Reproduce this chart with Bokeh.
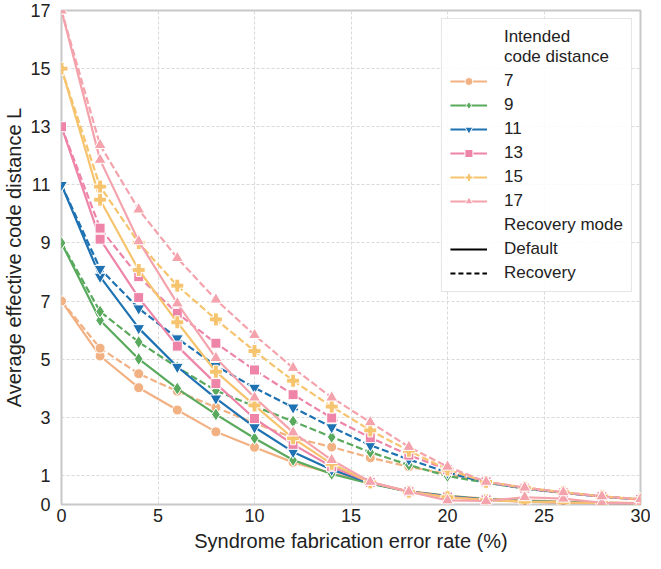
from bokeh.plotting import figure
from bokeh.models import Legend, LegendItem, FixedTicker, ColumnDataSource
from bokeh.embed import file_html
from bokeh.resources import INLINE

error_rate = [0, 2, 4, 6, 8, 10, 12, 14, 16, 18, 20, 22, 24, 26, 28, 30]
distances = ["7", "9", "11", "13", "15", "17"]

d7_default = [7, 5.11, 4.02, 3.25, 2.5, 1.97, 1.45, 1.08, 0.75, 0.46, 0.3, 0.2, 0.14, 0.1, 0.07, 0.05]
d7_recovery = [7, 5.38, 4.5, 3.9, 3.34, 2.8, 2.3, 1.98, 1.61, 1.3, 1.05, 0.78, 0.58, 0.42, 0.28, 0.18]
d9_default = [9, 6.34, 5.01, 3.99, 3.1, 2.28, 1.53, 1.05, 0.72, 0.44, 0.3, 0.18, 0.12, 0.08, 0.06, 0.04]
d9_recovery = [9, 6.64, 5.59, 4.72, 3.92, 3.38, 2.86, 2.32, 1.8, 1.36, 0.98, 0.75, 0.55, 0.4, 0.27, 0.17]
d11_default = [11, 7.84, 6.07, 4.74, 3.65, 2.66, 1.81, 1.2, 0.74, 0.44, 0.28, 0.17, 0.11, 0.07, 0.05, 0.03]
d11_recovery = [11, 8.11, 6.75, 5.72, 4.77, 4.02, 3.34, 2.66, 2.04, 1.55, 1.1, 0.76, 0.55, 0.4, 0.27, 0.17]
d13_default = [13, 9.13, 7.12, 5.45, 4.16, 2.96, 2.07, 1.3, 0.76, 0.44, 0.26, 0.16, 0.1, 0.06, 0.04, 0.03]
d13_recovery = [13, 9.51, 7.84, 6.58, 5.55, 4.63, 3.78, 2.98, 2.3, 1.7, 1.2, 0.78, 0.56, 0.4, 0.27, 0.17]
d15_default = [15, 10.49, 8.07, 6.27, 4.57, 3.41, 2.28, 1.4, 0.76, 0.44, 0.25, 0.15, 0.1, 0.07, 0.05, 0.03]
d15_recovery = [15, 10.94, 9.0, 7.53, 6.37, 5.28, 4.26, 3.37, 2.55, 1.85, 1.2, 0.78, 0.58, 0.42, 0.28, 0.18]
d17_default = [17, 11.86, 9.06, 6.92, 5.04, 3.68, 2.48, 1.53, 0.78, 0.44, 0.14, 0.12, 0.25, 0.2, 0.06, 0.04]
d17_recovery = [17, 12.37, 10.15, 8.48, 7.05, 5.83, 4.7, 3.68, 2.83, 1.98, 1.3, 0.78, 0.58, 0.42, 0.28, 0.18]

y_ticks = [0, 1, 3, 5, 7, 9, 11, 13, 15, 17]
x_ticks = [0, 5, 10, 15, 20, 25, 30]

defaults = [d7_default, d9_default, d11_default, d13_default, d15_default, d17_default]
recoveries = [d7_recovery, d9_recovery, d11_recovery, d13_recovery, d15_recovery, d17_recovery]
colors = ["#F1B183", "#5AAA5E", "#1F72B2", "#EE85A8", "#F6C46E", "#F4A3AC"]
markers = ["circle", "diamond", "inverted_triangle", "square", "plus", "triangle"]
msizes = [10, 13, 12, 10, 13, 12]

FONT = "Liberation Sans"

p = figure(frame_width=579, frame_height=494, output_backend="svg", toolbar_location=None,
           x_range=(0, 30), y_range=(0, 17),
           min_border_left=55, min_border_right=10, min_border_top=10, min_border_bottom=40)

p.outline_line_color = "#c8c8c8"
p.outline_line_width = 2
p.background_fill_color = "white"

for ax in (p.xaxis, p.yaxis):
    ax.axis_line_color = None
    ax.major_tick_line_color = None
    ax.minor_tick_line_color = None
    ax.major_tick_out = 0
    ax.major_tick_in = 0
    ax.minor_tick_out = 0
    ax.major_label_text_font = FONT
    ax.major_label_text_font_size = "18px"
    ax.major_label_text_color = "#222222"
    ax.axis_label_text_font = FONT
    ax.axis_label_text_font_size = "20px"
    ax.axis_label_text_font_style = "normal"
    ax.axis_label_text_color = "#222222"

p.xaxis.ticker = FixedTicker(ticks=x_ticks)
p.yaxis.ticker = FixedTicker(ticks=y_ticks)
p.xaxis.major_label_standoff = 4
p.yaxis.major_label_standoff = 11
p.xaxis.axis_label_standoff = 5
p.yaxis.axis_label_standoff = 2
p.xaxis.axis_label = "Syndrome fabrication error rate (%)"
p.yaxis.axis_label = "Average effective code distance L"

for g in (p.xgrid, p.ygrid):
    g.grid_line_color = "#d9d9d9"
    g.grid_line_dash = "3 2"
    g.grid_line_width = 1

dist_items = []
for name, dd, rr, c, m, s in zip(distances, defaults, recoveries, colors, markers, msizes):
    src_d = ColumnDataSource(dict(x=error_rate, y=dd))
    src_r = ColumnDataSource(dict(x=error_rate, y=rr))
    ld = p.line("x", "y", source=src_d, line_color=c, line_width=2.2)
    lr = p.line("x", "y", source=src_r, line_color=c, line_width=2.2, line_dash="7 3")
    sd = p.scatter("x", "y", source=src_d, marker=m, size=s, fill_color=c,
                   line_color="white", line_width=1)
    sr = p.scatter("x", "y", source=src_r, marker=m, size=s, fill_color=c,
                   line_color="white", line_width=1)
    dist_items.append(LegendItem(label=name, renderers=[ld, sd]))

# legend-only renderers placed outside the visible ranges
off_x = [-10, -9]
off_y = [-10, -10]
blank1 = p.line(off_x, off_y, line_alpha=0)
blank2 = p.line(off_x, off_y, line_alpha=0)
leg_def = p.line(off_x, off_y, line_color="black", line_width=2)
leg_rec = p.line(off_x, off_y, line_color="black", line_width=2, line_dash="5 3")

items = [LegendItem(label="Intended\ncode distance", renderers=[blank1])] + dist_items + [
    LegendItem(label="Recovery mode", renderers=[blank2]),
    LegendItem(label="Default", renderers=[leg_def]),
    LegendItem(label="Recovery", renderers=[leg_rec]),
]

legend = Legend(items=items, location="top_right")
legend.label_text_font = FONT
legend.label_text_font_size = "17px"
legend.label_text_color = "#222222"
legend.glyph_width = 37
legend.glyph_height = 20
legend.label_height = 20
legend.label_standoff = 17
legend.spacing = 4
legend.padding = 8
legend.margin = 8
legend.border_line_color = "#cccccc"
legend.border_line_width = 1
legend.background_fill_alpha = 0.85
p.add_layout(legend)

open("out.html", "w").write(file_html(p, INLINE))
